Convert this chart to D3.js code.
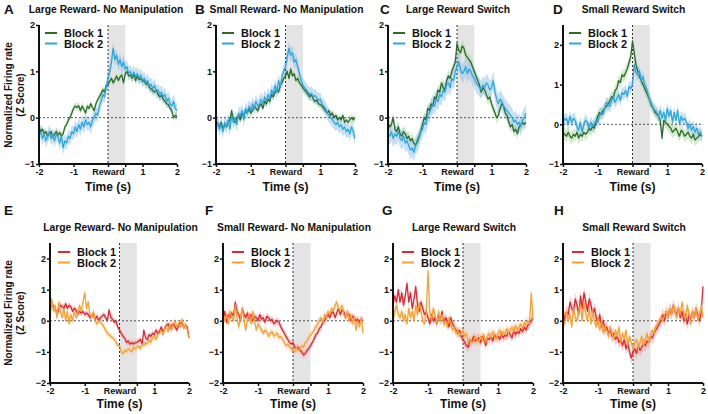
<!DOCTYPE html>
<html><head><meta charset="utf-8">
<script src="https://cdn.jsdelivr.net/npm/d3@7"></script>
<style>body{margin:0;background:#fff;} svg{display:block;font-family:Arial,'Liberation Sans',sans-serif;}</style>
</head><body>
<svg id="chart" width="708" height="414"></svg>
<script>
const panelLetters = ["A","B","C","D","E","F","G","H"];
const panelTitles = ["Large Reward- No Manipulation","Small Reward- No Manipulation","Large Reward Switch","Small Reward Switch",
  "Large Reward- No Manipulation","Small Reward- No Manipulation","Large Reward Switch","Small Reward Switch"];
const seriesNames = ["Block 1","Block 2"];
const xTickValues = [-2,-1,0,0.5,1,2];
const xTickLabels = ["-2","-1","Reward","","1","2"];
const yTicksTop = [-1,0,1,2];
const yTicksBottom = [-2,-1,0,1,2];
const yLabel = ["Normalized Firing rate","(Z Score)"];
const xLabel = "Time (s)";

const A1=[-0.20,-0.30,-0.25,-0.35,-0.30,-0.40,-0.35,-0.30,-0.42,-0.35,-0.30,-0.38,-0.32,-0.40,-0.35,-0.20,-0.15,-0.05,0.00,0.10,0.20,0.25,0.22,0.26,0.15,0.25,0.18,0.10,0.25,0.20,0.30,0.22,0.15,0.30,0.38,0.45,0.52,0.60,0.55,0.70,0.72,0.78,0.85,0.75,0.82,0.90,0.80,0.88,0.92,0.75,0.95,1.00,0.90,0.92,0.85,0.95,0.80,0.90,0.82,0.85,0.78,0.80,0.72,0.75,0.65,0.62,0.58,0.55,0.60,0.50,0.45,0.48,0.40,0.35,0.30,0.28,0.20,0.15,0.00,0.05,0.02];
const A2=[-0.40,-0.30,-0.45,-0.35,-0.50,-0.40,-0.30,-0.45,-0.38,-0.50,-0.35,-0.42,-0.55,-0.40,-0.65,-0.50,-0.55,-0.40,-0.45,-0.30,-0.35,-0.20,-0.30,-0.15,-0.25,-0.10,-0.20,-0.05,-0.15,-0.10,-0.20,-0.05,0.00,0.10,0.05,0.25,0.35,0.50,0.45,0.65,0.85,1.00,1.20,1.50,1.25,1.35,1.15,1.25,1.10,1.20,1.05,1.10,0.95,1.00,0.90,0.98,0.88,0.95,0.85,0.92,0.80,0.85,0.75,0.80,0.68,0.72,0.62,0.70,0.55,0.60,0.50,0.55,0.45,0.50,0.35,0.42,0.30,0.25,0.35,0.20,0.15];
const B1=[-0.10,-0.15,-0.20,-0.10,-0.25,-0.15,-0.20,-0.10,-0.05,0.15,-0.05,-0.10,0.00,0.05,-0.05,0.10,0.05,0.15,0.10,0.20,0.10,0.15,0.25,0.20,0.15,0.25,0.30,0.20,0.35,0.30,0.40,0.35,0.50,0.45,0.55,0.60,0.55,0.70,0.75,0.85,0.90,1.00,0.85,1.05,0.90,0.95,0.80,0.85,0.75,0.70,0.65,0.60,0.55,0.50,0.45,0.50,0.40,0.35,0.38,0.30,0.28,0.25,0.20,0.15,0.10,0.15,0.05,0.10,0.00,0.05,-0.05,0.00,-0.05,0.05,-0.10,-0.05,-0.10,-0.05,0.00,-0.05,0.00];
const B2=[-0.20,-0.10,-0.25,-0.15,-0.30,-0.10,-0.20,-0.05,-0.25,0.05,-0.10,0.00,-0.15,0.10,0.05,0.15,-0.05,0.20,0.10,0.25,0.15,0.30,0.20,0.35,0.25,0.30,0.40,0.30,0.45,0.35,0.50,0.40,0.60,0.50,0.70,0.55,0.80,0.65,0.90,1.00,1.10,1.30,1.50,1.35,1.40,1.20,1.25,1.10,0.95,0.80,0.70,0.65,0.60,0.55,0.50,0.52,0.45,0.48,0.42,0.38,0.40,0.30,0.25,0.20,0.10,0.05,0.00,-0.05,-0.10,-0.15,-0.10,-0.20,-0.15,-0.25,-0.20,-0.30,-0.25,-0.35,-0.20,-0.30,-0.45];
const C1=[-0.10,-0.20,-0.15,0.00,-0.25,-0.30,-0.20,-0.35,-0.40,-0.30,-0.35,-0.45,-0.40,-0.50,-0.45,-0.55,-0.60,-0.50,-0.40,-0.30,-0.15,0.00,-0.05,0.20,0.15,0.30,0.25,0.45,0.40,0.60,0.55,0.75,0.65,0.60,0.80,0.90,0.85,1.00,1.10,1.20,1.60,1.45,1.40,1.55,1.50,1.35,1.30,1.25,1.20,1.10,1.00,0.90,0.80,0.70,0.55,0.65,0.60,0.50,0.40,0.45,0.30,0.20,0.10,0.00,0.05,0.20,0.30,0.25,0.10,0.05,-0.10,-0.20,-0.15,-0.30,-0.25,-0.35,-0.20,-0.15,-0.10,-0.15,-0.10];
const C2=[-0.35,-0.40,-0.30,-0.45,-0.35,-0.40,-0.30,-0.45,-0.50,-0.40,-0.55,-0.50,-0.60,-0.70,-0.65,-0.75,-0.60,-0.55,-0.45,-0.30,-0.25,-0.10,-0.15,0.05,0.10,0.20,0.30,0.25,0.40,0.35,0.50,0.45,0.60,0.55,0.70,0.75,0.65,0.85,0.80,1.00,1.10,1.20,1.05,0.95,1.00,1.10,0.95,1.05,1.00,0.90,0.85,0.75,0.70,0.65,0.60,0.70,0.65,0.75,0.70,0.60,0.65,0.80,0.55,0.40,0.30,0.40,0.35,0.25,0.20,0.15,0.10,0.05,0.00,-0.10,-0.05,-0.15,-0.10,-0.20,-0.05,0.00,0.10];
const D1=[-0.20,-0.25,-0.30,-0.20,-0.30,-0.35,-0.25,-0.30,-0.20,-0.35,-0.25,-0.30,-0.20,-0.25,-0.20,-0.10,-0.15,-0.05,-0.10,0.05,0.20,0.30,0.25,0.35,0.40,0.45,0.50,0.60,0.70,0.65,0.85,0.90,1.10,1.05,1.25,1.20,1.30,1.40,1.55,1.70,2.10,1.80,1.50,1.35,1.20,1.10,1.00,0.90,0.80,0.70,0.60,0.45,0.40,0.30,0.25,0.20,0.10,-0.35,0.10,0.05,0.00,-0.05,-0.10,-0.20,-0.15,-0.10,-0.20,-0.30,-0.15,-0.20,-0.30,-0.25,-0.20,-0.30,-0.35,-0.25,-0.40,-0.35,-0.30,-0.25,-0.30];
const D2=[0.20,0.10,0.15,0.00,0.20,0.05,0.15,0.10,-0.05,-0.15,0.05,-0.20,0.00,0.10,0.05,-0.10,0.05,-0.05,0.00,0.10,0.05,0.20,0.30,0.25,0.40,0.55,0.50,0.45,0.60,0.70,0.55,0.65,0.75,0.60,0.80,0.75,0.85,0.70,0.95,0.90,1.00,1.50,1.30,1.25,1.35,1.10,1.20,1.00,0.90,0.75,0.60,0.50,0.40,0.35,0.30,0.20,0.35,0.15,0.30,0.10,0.40,0.20,0.35,0.05,0.30,0.10,0.35,0.00,0.20,0.10,0.15,0.05,-0.10,0.00,-0.15,-0.05,-0.20,-0.10,-0.25,-0.20,-0.30];
const E1=[0.30,0.60,0.45,0.40,0.20,0.35,0.50,0.45,0.40,0.55,0.40,0.50,0.45,0.30,0.40,0.35,0.20,0.30,0.25,0.30,0.20,0.25,0.20,0.10,0.15,0.20,0.05,0.15,0.00,0.10,0.15,0.20,0.10,0.00,0.35,0.10,0.05,-0.05,0.00,-0.20,-0.30,-0.40,-0.50,-0.55,-0.70,-0.65,-0.75,-0.70,-0.75,-0.70,-0.70,-0.65,-0.60,-0.75,-0.30,-0.55,-0.60,-0.45,-0.50,-0.40,-0.45,-0.30,-0.40,-0.35,-0.20,-0.35,-0.25,-0.15,-0.10,-0.25,-0.15,-0.10,-0.20,-0.30,-0.15,-0.05,-0.10,-0.20,-0.15,-0.20,-0.55];
const E2=[0.00,0.70,0.30,0.50,0.10,0.60,0.30,0.10,0.40,0.00,0.30,-0.10,0.20,0.00,0.30,0.10,0.20,0.50,0.30,0.60,0.90,0.40,0.60,0.20,0.10,0.30,0.00,-0.10,0.00,-0.05,-0.10,-0.20,-0.30,-0.40,-0.45,-0.50,-0.55,-0.60,-0.70,-0.80,-0.80,-1.00,-1.05,-0.95,-1.00,-0.90,-0.95,-1.00,-0.85,-0.90,-0.85,-0.80,-0.90,-0.75,-0.80,-0.70,-0.75,-0.60,-0.70,-0.55,-0.50,-0.60,-0.45,-0.40,-0.30,-0.45,-0.25,-0.20,-0.35,-0.10,-0.30,-0.15,0.00,-0.20,-0.10,-0.20,0.05,-0.25,-0.10,-0.30,-0.55];
const F1=[0.00,0.30,-0.05,0.20,0.10,0.25,0.15,0.60,0.30,0.20,0.00,0.40,0.20,0.10,0.25,0.05,0.20,0.00,0.15,0.10,0.00,0.20,0.05,0.10,-0.05,0.15,0.10,0.00,0.05,-0.10,-0.05,0.00,-0.05,-0.20,-0.30,-0.40,-0.50,-0.60,-0.70,-0.75,-0.70,-0.85,-0.90,-0.85,-0.95,-1.00,-1.10,-1.05,-0.95,-0.90,-0.80,-0.70,-0.60,-0.45,-0.40,-0.25,-0.20,-0.05,0.00,0.10,0.20,0.10,0.25,0.30,0.10,0.25,0.40,0.20,0.35,0.30,0.10,0.25,0.20,0.00,0.15,0.10,0.00,0.05,-0.05,0.05,0.00];
const F2=[0.30,0.00,0.20,-0.10,0.30,0.10,0.00,0.50,0.10,-0.20,0.10,0.40,0.00,-0.30,0.10,0.20,-0.10,0.30,0.00,-0.30,-0.10,-0.20,-0.30,-0.40,-0.30,-0.35,-0.50,-0.40,-0.35,-0.50,-0.45,-0.40,-0.55,-0.50,-0.60,-0.70,-0.80,-0.75,-0.85,-0.90,-0.95,-1.00,-0.85,-0.95,-0.90,-0.80,-0.85,-0.70,-0.65,-0.55,-0.45,-0.40,-0.30,-0.20,-0.10,0.00,0.10,-0.05,0.20,0.10,0.30,0.20,0.40,0.30,0.50,0.60,0.40,0.30,0.50,0.20,0.10,0.30,0.00,0.20,-0.10,0.10,-0.30,0.00,-0.20,0.10,-0.40];
const G1=[0.50,0.80,0.60,1.00,0.60,0.90,0.50,0.80,1.20,0.60,0.90,0.40,0.70,1.10,0.50,0.30,0.60,0.40,0.20,0.30,0.10,-0.10,0.20,0.00,0.10,-0.10,0.20,0.00,0.30,-0.10,0.10,0.00,-0.20,0.10,-0.10,-0.20,-0.30,-0.40,-0.30,-0.50,-0.60,-0.70,-0.80,-0.85,-0.60,-0.70,-0.50,-0.65,-0.60,-0.55,-0.70,-0.50,-0.60,-0.80,-0.55,-0.60,-0.50,-0.65,-0.45,-0.55,-0.50,-0.60,-0.40,-0.55,-0.45,-0.50,-0.35,-0.45,-0.55,-0.30,-0.45,-0.35,-0.40,-0.25,-0.35,-0.20,-0.30,-0.15,-0.10,0.00,0.10];
const G2=[0.00,0.30,0.50,0.20,0.10,0.30,0.00,0.20,-0.10,0.40,0.10,0.30,0.00,0.50,0.20,0.60,0.30,0.00,-0.10,0.20,1.60,0.30,0.00,0.40,0.20,-0.10,0.30,0.00,0.20,-0.10,0.00,-0.20,0.10,-0.10,-0.30,-0.20,-0.40,-0.30,-0.50,-0.40,-0.30,-0.50,-0.40,-0.70,-0.60,-0.70,-0.65,-0.50,-0.60,-0.70,-0.50,-0.60,-0.45,-0.70,-0.50,-0.40,-0.55,-0.35,-0.50,-0.60,-0.40,-0.30,-0.50,-0.35,-0.45,-0.25,-0.40,-0.30,-0.20,-0.35,-0.15,-0.30,-0.20,-0.10,-0.25,-0.05,-0.15,0.00,-0.10,0.90,0.00];
const H1=[0.40,0.00,0.30,0.20,0.60,0.40,0.30,0.70,0.50,0.20,0.80,0.40,0.90,0.60,0.30,0.70,0.50,0.20,0.40,0.10,-0.10,0.20,-0.20,0.00,-0.30,-0.20,-0.40,-0.30,-0.50,-0.40,-0.60,-0.50,-0.70,-0.60,-0.80,-0.60,-0.90,-0.70,-1.00,-1.20,-1.00,-0.90,-1.05,-0.80,-0.95,-0.85,-0.75,-0.80,-0.65,-0.70,-0.50,-0.55,-0.40,-0.30,-0.20,-0.10,0.00,0.20,0.00,0.30,0.10,0.40,0.20,0.50,0.30,0.20,0.40,0.10,0.30,0.00,0.20,-0.10,0.20,0.00,0.30,0.10,0.40,0.20,0.00,0.30,1.10];
const H2=[0.00,-0.10,0.30,0.00,0.20,-0.20,0.40,0.10,0.00,0.30,0.50,0.00,0.60,0.20,0.00,0.40,-0.10,0.30,0.00,-0.20,0.10,-0.30,0.00,-0.40,-0.20,-0.30,-0.50,-0.20,-0.40,-0.60,-0.30,-0.50,-0.20,-0.70,-0.40,-0.60,-0.30,-0.80,-0.50,-0.70,-0.90,-0.70,-0.60,-0.90,-0.70,-0.50,-0.80,-0.60,-0.40,-0.70,-0.50,-0.30,-0.40,-0.20,-0.10,0.00,0.10,0.00,0.20,0.30,0.10,0.40,0.20,0.50,0.30,0.10,0.40,0.20,0.60,0.30,0.00,0.50,0.20,-0.10,0.30,0.10,0.40,0.00,0.20,0.50,0.10];
// standard error (half band width) per panel, [Block 1, Block 2]
const semValues = [[0.08,0.15],[0.08,0.15],[0.12,0.20],[0.15,0.15],[0.10,0.10],[0.12,0.12],[0.15,0.15],[0.20,0.12]];
const seriesData = [[A1,A2],[B1,B2],[C1,C2],[D1,D2],[E1,E2],[F1,F2],[G1,G2],[H1,H2]];
const yDomains = [[-1,2],[-1,2],[-1,2],[-1,2.5],[-2,2.5],[-2,2.5],[-2,2.5],[-2,2.5]];

// layout (styling)
const xRanges = [[39,177],[216,355],[388,526],[563,702],[50,189],[223,363],[393,533],[563,703]];
const letterX = [4,195,380,553,4,205,382,554];
const rows = [
  {top:25,bot:164,letterY:14,titleY:13,timeY:191,legY:33,ylabY:95},
  {top:243,bot:383,letterY:215,titleY:231,timeY:408,legY:252,ylabY:313}
];
const legendOffset = [6,6,5,6,8,9,9,9];
const palettes = [
  {line:["#2c6a2e","#2aa7df"], band:["#a9d79c","#8fc0e8"]},
  {line:["#e3262f","#f7a133"], band:["#f09aa0","#f9c98f"]}
];

const svg = d3.select("#chart");
const fontBold = "bold";

panelLetters.forEach((L, p) => {
  const row = rows[p < 4 ? 0 : 1];
  const pal = palettes[p < 4 ? 0 : 1];
  const x = d3.scaleLinear().domain([-2,2]).range(xRanges[p]);
  const y = d3.scaleLinear().domain(yDomains[p]).range([row.bot,row.top]);
  const g = svg.append("g");

  svg.append("text").attr("x",letterX[p]).attr("y",row.letterY).text(L)
    .attr("font-size",13.5).attr("font-weight",fontBold).attr("fill","#111");
  svg.append("text").attr("x",(xRanges[p][0]+xRanges[p][1])/2 + (p===0?-2:1)).attr("y",row.titleY).text(panelTitles[p])
    .attr("text-anchor","middle").attr("font-size",10.3).attr("font-weight",fontBold).attr("fill","#111");

  g.append("rect").attr("x",x(0)).attr("y",row.top).attr("width",x(0.5)-x(0)).attr("height",row.bot-row.top)
    .attr("fill","#e4e4e4");

  seriesData[p].forEach((vals, s) => {
    const n = vals.length;
    const pts = vals.map((v,i) => ({t:-2+4*i/(n-1), v}));
    const sem = semValues[p][s];
    const area = d3.area().x(d=>x(d.t)).y0(d=>y(d.v-sem)).y1(d=>y(d.v+sem));
    g.append("path").datum(pts).attr("d",area).attr("fill",pal.band[s]).attr("fill-opacity",0.5);
  });

  g.append("line").attr("x1",x(-2)).attr("x2",x(2)).attr("y1",y(0)).attr("y2",y(0))
    .attr("stroke","#555").attr("stroke-width",1).attr("stroke-dasharray","2,2");
  g.append("line").attr("x1",x(0)).attr("x2",x(0)).attr("y1",row.top).attr("y2",row.bot)
    .attr("stroke","#333").attr("stroke-width",1).attr("stroke-dasharray","2,2");

  seriesData[p].forEach((vals, s) => {
    const n = vals.length;
    const pts = vals.map((v,i) => ({t:-2+4*i/(n-1), v}));
    const line = d3.line().x(d=>x(d.t)).y(d=>y(d.v));
    g.append("path").datum(pts).attr("d",line).attr("fill","none")
      .attr("stroke",pal.line[s]).attr("stroke-width",1.3).attr("stroke-linejoin","round");
  });

  const yTicks = p < 4 ? yTicksTop : yTicksBottom;
  const yAxis = d3.axisLeft(y).tickValues(yTicks).tickSize(3).tickPadding(1).tickFormat(d3.format("d"));
  const ya = g.append("g").attr("transform",`translate(${x(-2)},0)`).call(yAxis);
  const xAxis = d3.axisBottom(x).tickValues(xTickValues).tickSize(3).tickPadding(2)
    .tickFormat((d,i)=>xTickLabels[i]);
  const xa = g.append("g").attr("transform",`translate(0,${row.bot})`).call(xAxis);
  [ya,xa].forEach(a => {
    a.select(".domain").attr("stroke","#111").attr("stroke-width",2);
    a.selectAll(".tick line").attr("stroke","#111").attr("stroke-width",1.5);
    a.selectAll(".tick text").attr("font-size",9).attr("font-weight",fontBold).attr("fill","#111")
      .attr("font-family","Arial,'Liberation Sans',sans-serif");
  });
  ya.select(".domain").attr("d",`M0,${row.bot}V${row.top}`);
  xa.select(".domain").attr("d",`M${xRanges[p][0]},0H${xRanges[p][1]}`);

  svg.append("text").attr("x",(xRanges[p][0]+xRanges[p][1])/2).attr("y",row.timeY).text(xLabel)
    .attr("text-anchor","middle").attr("font-size",12).attr("font-weight",fontBold).attr("fill","#111");

  seriesNames.forEach((nm, s) => {
    const ly = row.legY + s*10.5;
    const lx = xRanges[p][0] + legendOffset[p];
    svg.append("line").attr("x1",lx).attr("x2",lx+12).attr("y1",ly).attr("y2",ly)
      .attr("stroke",pal.line[s]).attr("stroke-width",2);
    svg.append("text").attr("x",lx+19).attr("y",ly+4).text(nm)
      .attr("font-size",11).attr("font-weight",fontBold).attr("fill","#111");
  });
});

rows.forEach(row => {
  yLabel.forEach((t, k) => {
    svg.append("text").attr("transform",`translate(${12+k*12},${row.ylabY}) rotate(-90)`)
      .attr("text-anchor","middle").text(t).attr("font-size",10).attr("font-weight",fontBold).attr("fill","#111");
  });
});
</script>
</body></html>
